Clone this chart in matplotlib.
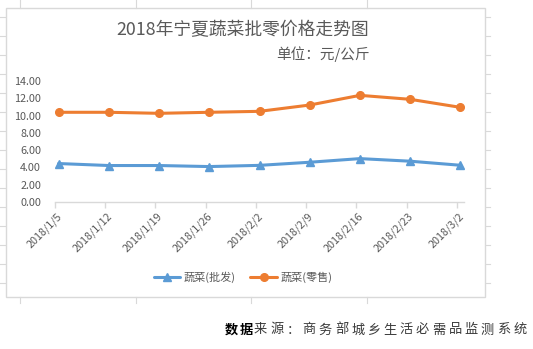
import numpy as np
import matplotlib.pyplot as plt
from matplotlib.lines import Line2D
from matplotlib.patches import Rectangle
import matplotlib.transforms as mtransforms

plt.rcParams['font.family'] = ['Noto Sans CJK SC', 'DejaVu Sans']

# data
dates = ['2018/1/5', '2018/1/12', '2018/1/19', '2018/1/26', '2018/2/2',
         '2018/2/9', '2018/2/16', '2018/2/23', '2018/3/2']
day_offset = [0, 7, 14, 21, 28, 35, 42, 49, 56]
wholesale = [4.45, 4.22, 4.22, 4.10, 4.24, 4.60, 5.02, 4.72, 4.25]
retail = [10.38, 10.38, 10.26, 10.38, 10.49, 11.22, 12.34, 11.88, 10.95]
y_ticks = [0, 2, 4, 6, 8, 10, 12, 14]

title = '2018年宁夏蔬菜批零价格走势图'
subtitle = '单位：元/公斤'
source_bold = '数据'
source_rest = '来源：商务部城乡生活必需品监测系统'

BLUE = '#5B9BD5'
ORANGE = '#ED7D31'
GRID = '#D9D9D9'
TEXT = '#595959'

W, H = 533, 349
fig = plt.figure(figsize=(W / 100, H / 100), dpi=100)
fig.patch.set_facecolor('white')


def px(x, y):
    """pixel position (from top-left) to figure fraction"""
    return x / W, 1 - y / H


# spreadsheet cell lines peeking around the chart
for cx in [20, 136, 251, 367]:
    for y0, y1 in [(0, 8), (297, 303)]:
        fig.add_artist(Line2D([cx / W, cx / W], [1 - y0 / H, 1 - y1 / H],
                              color=GRID, lw=0.8))
for k in range(15):
    ry = 17 + 19 * k
    if ry > 297:
        break
    fig.add_artist(Line2D([0, 5 / W], [1 - ry / H] * 2, color=GRID, lw=0.8))
    fig.add_artist(Line2D([486 / W, 490 / W], [1 - ry / H] * 2, color=GRID, lw=0.8))

# chart frame
x0, y0 = px(6, 297)
x1, y1 = px(485, 8)
fig.add_artist(Rectangle((x0, y0), x1 - x0, y1 - y0, transform=fig.transFigure,
                         fill=False, edgecolor=GRID, lw=1.0))

ax = fig.add_axes([55 / W, 1 - 202 / H, (464 - 55) / W, (202 - 81) / H])
ax.set_facecolor('none')

ax.plot(day_offset, wholesale, color=BLUE, lw=2.2, marker='^', ms=5.5,
        label='蔬菜(批发)', solid_capstyle='round')
ax.plot(day_offset, retail, color=ORANGE, lw=2.2, marker='o', ms=5.5,
        label='蔬菜(零售)', solid_capstyle='round')

ax.set_xlim(-0.5, 56.5)
ax.set_ylim(0, 14)
ax.set_yticks(y_ticks)
ax.set_yticklabels([f'{v:.2f}' for v in y_ticks])
ax.set_xticks([d - 0.5 for d in day_offset])
ax.set_xticklabels(dates, rotation=45, ha='right', va='center',
                   rotation_mode='anchor')

for side in ['top', 'right', 'left']:
    ax.spines[side].set_visible(False)
ax.spines['bottom'].set_color(GRID)
ax.spines['bottom'].set_linewidth(1.0)
ax.tick_params(axis='x', colors=GRID, length=4, width=1.0, pad=5,
               labelcolor=TEXT, labelsize=7.8)
ax.tick_params(axis='y', length=0, pad=10, labelcolor=TEXT, labelsize=7.8)

shift = mtransforms.ScaledTranslation(5 / 100, 0, fig.dpi_scale_trans)
for lbl in ax.get_xticklabels():
    lbl.set_transform(lbl.get_transform() + shift)

# titles
tx, ty = px(243, 30)
fig.text(tx, ty, title, ha='center', va='center', fontsize=12.8, color=TEXT)
sx, sy = px(370, 54)
fig.text(sx, sy, subtitle, ha='right', va='center', fontsize=10.5, color=TEXT)

# legend
lx, ly = px(243, 277)
fig.legend(loc='center', bbox_to_anchor=(lx, ly), ncol=2, frameon=False,
           fontsize=8, labelcolor=TEXT, handlelength=2.4, handletextpad=0.3,
           columnspacing=1.3)

# data source note
bx = 225
for ch in source_bold:
    fx, fy = px(bx, 330)
    fig.text(fx, fy, ch, ha='left', va='center', fontsize=9.5,
             fontweight='bold', color='black')
    bx += 14.5
for i, ch in enumerate(source_rest):
    fx, fy = px(254 + i * 16.2, 330)
    fig.text(fx, fy, ch, ha='left', va='center', fontsize=9.5, color='#3a3a3a')

fig.savefig('out.png', dpi=100)
